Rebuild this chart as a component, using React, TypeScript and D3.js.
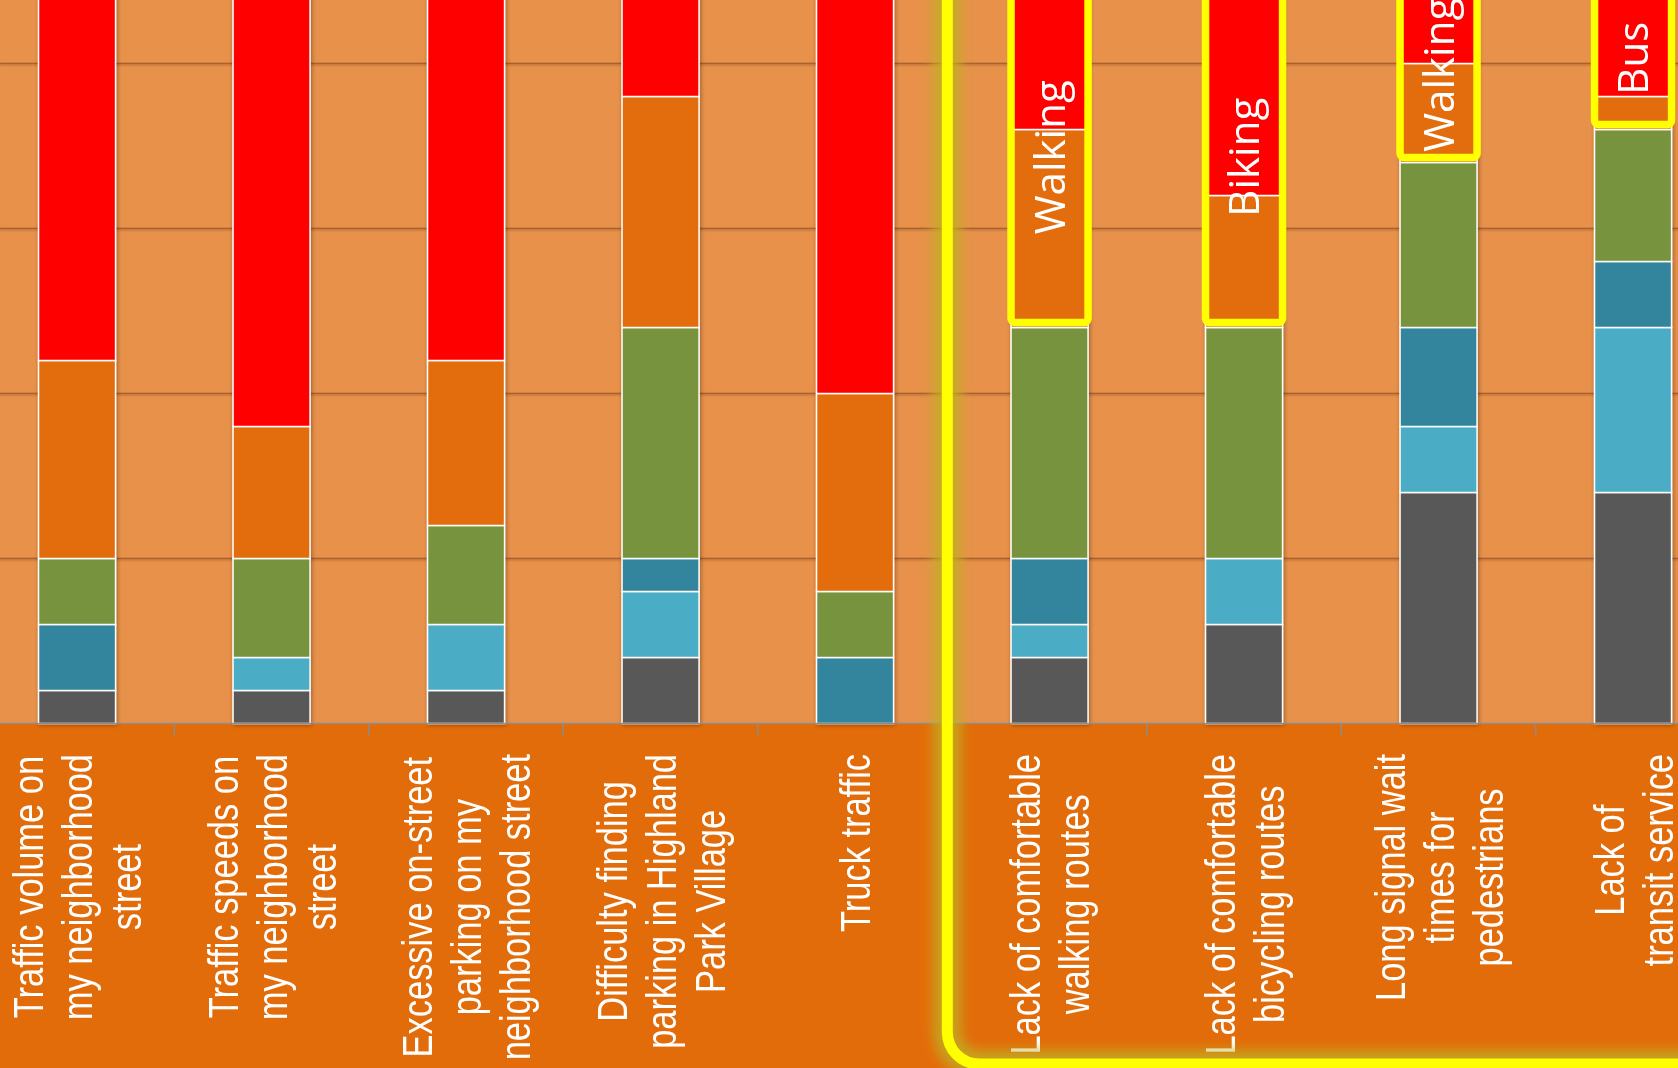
import React, { useMemo } from "react";
import * as d3 from "d3";

// ---------- data ----------
const categories = [
  "Traffic volume on my neighborhood street",
  "Traffic speeds on my neighborhood street",
  "Excessive on-street parking on my neighborhood street",
  "Difficulty finding parking in Highland Park Village",
  "Truck traffic",
  "Lack of comfortable walking routes",
  "Lack of comfortable bicycling routes",
  "Long signal wait times for pedestrians",
  "Lack of transit service",
];
const categoryLines = [
  ["Traffic volume on", "my neighborhood", "street"],
  ["Traffic speeds on", "my neighborhood", "street"],
  ["Excessive on-street", "parking on my", "neighborhood street"],
  ["Difficulty finding", "parking in Highland", "Park Village"],
  ["Truck traffic"],
  ["Lack of comfortable", "walking routes"],
  ["Lack of comfortable", "bicycling routes"],
  ["Long signal wait", "times for", "pedestrians"],
  ["Lack of", "transit service"],
];
// percentages, stacked bottom -> top
const level1 = [4, 4, 4, 8, 0, 8, 12, 28, 28];
const level2 = [0, 4, 8, 8, 0, 4, 8, 8, 20];
const level3 = [8, 0, 0, 4, 8, 8, 0, 12, 8];
const level4 = [8, 12, 12, 28, 8, 28, 28, 20, 16];
const level5 = [24, 16, 20, 28, 24, 24, 16, 12, 4];
const level6 = [56, 64, 56, 24, 60, 28, 36, 20, 24];
const seriesKeys = ["level1", "level2", "level3", "level4", "level5", "level6"];
const seriesValues = [level1, level2, level3, level4, level5, level6];
const seriesColors = ["#595959", "#4BACC6", "#31859C", "#77933C", "#E36C0A", "#FF0000"];
const yTicks = [0, 0.2, 0.4, 0.6, 0.8, 1.0];
const highlightIndices = [5, 6, 7, 8];
const highlightLabels = ["Walking", "Biking", "Walking", "Bus"];

// ---------- layout ----------
const W = 1678;
const H = 1068;
const BASE_Y = 723.5;
const GRID_STEP = 165;
const PLOT_BG = "#E8914A";
const LABEL_BG = "#E36C0A";
const YELLOW = "#FFFF00";
const LABEL_FONT = "'Liberation Sans', Arial, sans-serif";
const LABEL_SIZE = 42;
const NARROW = 0.82;
const LINE_H = 49;
const LABEL_TOP = 754;

function measure(text: string, font: string): number {
  const c = document.createElement("canvas");
  const ctx = c.getContext("2d")!;
  ctx.font = font;
  return ctx.measureText(text).width;
}

export default function App() {
  const x = d3
    .scaleBand<string>()
    .domain(categories)
    .range([-20.2, 1730.3])
    .paddingInner(0.604)
    .paddingOuter(0.302);
  const y = d3
    .scaleLinear()
    .domain([0, 1])
    .range([BASE_Y, BASE_Y - 5 * GRID_STEP]);
  const bw = x.bandwidth();
  const step = x.step();

  const rows = categories.map((c, i) => {
    const r: any = { category: c };
    seriesKeys.forEach((k, j) => (r[k] = seriesValues[j][i] / 100));
    return r;
  });
  const stacked = d3.stack<any>().keys(seriesKeys)(rows);

  const widths = useMemo(
    () =>
      categoryLines.map((lines) =>
        lines.map((l) => measure(l, `${LABEL_SIZE}px ${LABEL_FONT}`) * NARROW)
      ),
    []
  );

  const boundaries = categories.map((c) => (x(c) as number) + bw / 2 - step / 2);
  const bigBoxLeft = boundaries[highlightIndices[0]] - 5;

  return (
    <svg
      width={W}
      height={H}
      style={{ position: "fixed", left: 0, top: 0, display: "block" }}
    >
      <defs>
        <filter id="barShadow" x="-20%" y="-5%" width="140%" height="110%">
          <feDropShadow dx="1" dy="1" stdDeviation="2" floodColor="#000" floodOpacity="0.35" />
        </filter>
        <filter id="glow" x="-10%" y="-10%" width="120%" height="120%">
          <feGaussianBlur stdDeviation="6" />
        </filter>
        <filter id="gridShadow" x="0" y="-50%" width="100%" height="200%">
          <feDropShadow dx="0" dy="1" stdDeviation="0.8" floodColor="#000" floodOpacity="0.25" />
        </filter>
      </defs>

      {/* plot background */}
      <rect x={0} y={0} width={W} height={BASE_Y} fill={PLOT_BG} />

      {/* gridlines */}
      <g filter="url(#gridShadow)">
        {yTicks
          .filter((t) => t > 0)
          .map((t) => (
            <line
              key={t}
              x1={0}
              x2={W}
              y1={y(t)}
              y2={y(t)}
              stroke="#A8622C"
              strokeWidth={1.6}
            />
          ))}
      </g>

      {/* category label area */}
      <rect x={0} y={BASE_Y} width={W} height={H - BASE_Y} fill={LABEL_BG} />

      {/* bars */}
      {categories.map((c, i) => (
        <g key={c} filter="url(#barShadow)">
          {stacked.map((s, j) => {
            const d = s[i];
            const h = y(d[0]) - y(d[1]);
            if (h <= 0) return null;
            return (
              <rect
                key={s.key}
                x={x(c)}
                y={y(d[1])}
                width={bw}
                height={h}
                fill={seriesColors[j]}
                stroke="#FFFFFF"
                strokeWidth={1.5}
              />
            );
          })}
        </g>
      ))}

      {/* axis line and ticks */}
      <line x1={0} x2={W} y1={BASE_Y} y2={BASE_Y} stroke="#8C8C8C" strokeWidth={1.5} />
      {boundaries.concat([boundaries[boundaries.length - 1] + step]).map((bx, i) => (
        <line key={i} x1={bx} x2={bx} y1={BASE_Y} y2={BASE_Y + 12} stroke="#8C8C8C" strokeWidth={1.5} />
      ))}

      {/* category labels */}
      {categories.map((c, i) => {
        const lines = categoryLines[i];
        const n = lines.length;
        const maxW = Math.max(...widths[i]);
        const cx = (x(c) as number) + bw / 2;
        return (
          <g key={c} transform={`translate(${cx},0) rotate(-90)`}>
            {lines.map((l, k) => (
              <text
                key={k}
                x={-(LABEL_TOP + maxW / 2)}
                y={(k - (n - 1) / 2) * LINE_H + LABEL_SIZE * 0.36}
                textAnchor="middle"
                textLength={widths[i][k]}
                lengthAdjust="spacingAndGlyphs"
                fill="#FFFFFF"
                fontFamily={LABEL_FONT}
                fontSize={LABEL_SIZE}
              >
                {l}
              </text>
            ))}
          </g>
        );
      })}

      {/* big highlight box */}
      <rect
        x={bigBoxLeft}
        y={-80}
        width={W + 120 - bigBoxLeft}
        height={1064 + 80}
        rx={32}
        fill="none"
        stroke="#C0B020"
        strokeWidth={28}
        opacity={0.8}
        filter="url(#glow)"
      />
      <rect
        x={bigBoxLeft}
        y={-80}
        width={W + 120 - bigBoxLeft}
        height={1064 + 80}
        rx={32}
        fill="none"
        stroke={YELLOW}
        strokeWidth={11}
      />

      {/* small highlight boxes and labels */}
      {highlightIndices.map((idx, k) => {
        const c = categories[idx];
        const greenTop = stacked[3][idx][1];
        const x0 = x(c) as number;
        const top = -8;
        const bottom = y(greenTop) - 5;
        const cx = x0 + bw / 2;
        const cy = (top + bottom) / 2;
        return (
          <g key={c}>
            <rect
              x={x0}
              y={top}
              width={bw}
              height={bottom - top}
              rx={4}
              fill="none"
              stroke={YELLOW}
              strokeWidth={7.5}
            />
            <text
              transform={`translate(${cx},${cy}) rotate(-90)`}
              x={0}
              y={42 * 0.36}
              textAnchor="middle"
              fill="#FFFFFF"
              fontFamily="'Open Sans', sans-serif"
              fontSize={42}
            >
              {highlightLabels[k]}
            </text>
          </g>
        );
      })}
    </svg>
  );
}
